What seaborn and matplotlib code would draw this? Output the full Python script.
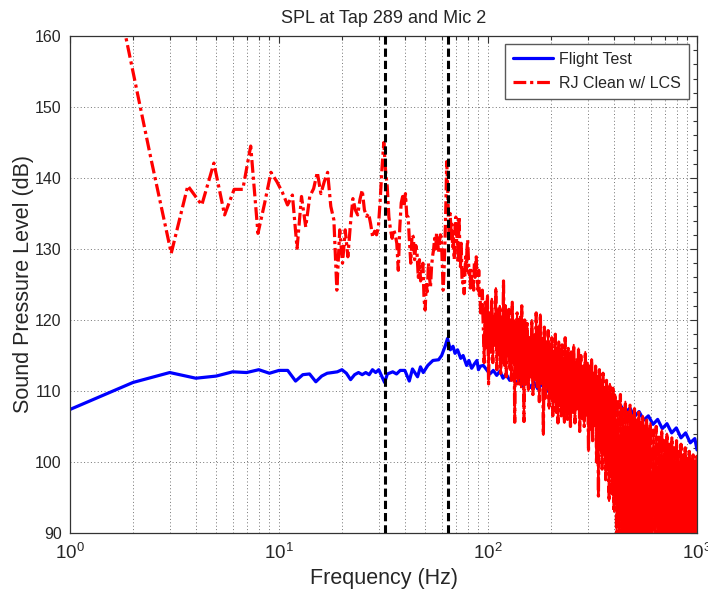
import pandas as pd
import seaborn as sns
import matplotlib.pyplot as plt
from matplotlib.lines import Line2D
from matplotlib.ticker import FixedLocator, FixedFormatter, LogLocator, MultipleLocator, NullFormatter

# ---- Flight Test (blue) ----
blue_freq = [1, 2, 3, 4, 5, 6, 7, 8, 9, 10, 11, 12, 13, 14, 15, 16, 17, 18, 19, 20,
             21, 22, 23, 24, 25, 26, 27, 28, 29, 30,
             32, 33, 35, 36.5, 38, 40, 42, 43.5, 46, 47.5, 49, 51.5, 54.5, 58, 60, 62.5, 64,
             66, 68, 69.5, 71.5, 74, 76, 79, 81, 83.5, 86, 88.5, 90, 92, 95, 99, 102, 106, 110,
             114, 118, 122, 127, 132, 136, 141, 147, 153, 160, 166, 173, 182, 190, 200, 210,
             222, 235, 250, 265, 280, 296, 313, 330, 348, 367, 387, 408, 430, 453, 477, 502,
             528, 556, 585, 616, 648, 682, 718, 756, 796, 838, 882, 928, 976, 1000]
blue_spl = [107.4, 111.2, 112.6, 111.8, 112.1, 112.7, 112.6, 113.0, 112.5, 112.9, 112.9, 111.4,
            112.3, 112.4, 111.3, 112.1, 112.5, 112.6, 112.7, 113.0, 112.5, 111.6, 112.3, 112.6,
            112.3, 112.6, 112.3, 113.0, 112.6, 113.0,
            111.2, 112.4, 112.7, 112.4, 112.9, 112.9, 111.4, 113.1, 112.0, 113.4, 112.6, 113.6,
            114.3, 114.4, 115.0, 116.4, 117.4,
            115.8, 116.3, 115.3, 115.8, 114.6, 115.0, 113.6, 114.3, 113.2, 113.8, 114.3, 113.0,
            113.5, 113.6, 112.9, 112.4, 112.9, 112.2, 112.8, 111.8, 112.4, 111.5, 112.0, 111.0,
            111.7, 110.6, 111.4, 110.5, 111.2, 110.3, 111.0, 109.9, 110.7, 109.6, 110.4, 109.4,
            110.1, 109.0, 109.8, 108.6, 109.3, 108.3, 108.9, 107.8, 108.5, 107.4, 108.0, 106.9,
            107.6, 106.4, 107.1, 105.9, 106.5, 105.3, 106.0, 104.7, 105.4, 104.1, 104.8, 103.4,
            104.1, 102.7, 103.3, 101.7]

# ---- RJ Clean w/ LCS (red), low-frequency part ----
red_freq_low = [0.61, 1.22, 1.83, 2.44, 3.05, 3.66, 4.27, 4.88, 5.49, 6.10, 6.71, 7.32, 7.93,
                8.54, 9.15, 9.76, 10.37, 10.98, 11.59, 12.20, 12.81, 13.42, 14.03, 14.64, 15.25,
                15.86, 16.47, 17.08, 17.69, 18.30, 18.91, 19.52, 20.13, 20.74, 21.35, 21.96,
                22.57, 23.18, 23.79, 24.40, 25.01, 25.62, 26.23, 26.84, 27.45, 28.06, 28.67,
                29.28, 29.89, 30.50, 31.11, 31.72, 32.33, 32.94, 33.55, 34.16, 34.77, 35.38,
                35.99, 36.60, 37.21, 37.82, 38.43, 39.04, 39.65, 40.26, 40.87, 41.48, 42.09,
                42.70, 43.31, 43.92, 44.53, 45.14, 45.75, 46.36, 46.97, 47.58, 48.19, 48.80,
                49.41, 50.02, 50.63, 51.24, 51.85, 52.46, 53.07, 53.68, 54.29, 54.90, 55.51,
                56.12, 56.73, 57.34, 57.95, 58.56, 59.17, 59.78, 60.39, 61.00, 61.61, 62.22,
                62.83, 63.44, 64.05, 64.66, 65.27, 65.88, 66.49, 67.10, 67.71, 68.32, 68.93,
                69.54, 70.15, 70.76, 71.37, 71.98, 72.59, 73.20, 73.81, 74.42, 75.03, 75.64,
                76.25, 76.86, 77.47, 78.08, 78.69, 79.30, 79.91, 80.52, 81.13, 81.74, 82.35,
                82.96, 83.57, 84.18, 84.79, 85.40, 86.01, 86.62, 87.23, 87.84, 88.45, 89.06,
                89.67, 90.28, 90.89, 91.50, 92.11, 92.72, 93.33, 93.94, 94.55, 95.16]
red_spl_low = [205.0, 183.0, 160.5, 142.7, 129.4, 138.9, 136.2, 142.1, 134.8, 138.4, 138.4, 144.5,
               132.2, 136.5, 140.8, 139.5, 138.0, 136.2, 137.6, 130.1, 137.4, 133.1, 137.4, 138.5,
               140.8, 137.8, 139.5, 140.8, 136.0, 134.1, 124.2, 132.7, 128.0, 132.7, 128.9, 133.5,
               137.1, 135.5, 134.8, 137.0, 138.3, 135.5, 134.6, 135.0, 133.5, 131.7, 132.5, 132.0,
               133.1, 137.0, 141.5, 145.0, 141.1, 138.8, 134.5, 132.7, 131.5, 132.7, 132.0, 130.8,
               127.0, 133.0, 136.5, 137.4, 136.0, 137.8, 134.6, 134.5, 131.0, 128.0, 132.0, 131.7,
               128.5, 130.5, 129.4, 126.0, 128.5, 125.5, 127.0, 128.0, 123.0, 121.4, 125.0, 124.0,
               128.0, 126.0, 124.7, 127.5, 129.0, 129.9, 131.5, 130.0, 132.2, 131.5, 129.5, 131.0,
               132.0, 131.7, 128.0, 124.2, 127.0, 130.8, 136.0, 142.3, 139.0, 134.5, 131.0, 135.0,
               132.7, 133.5, 130.3, 131.5, 128.5, 133.0, 134.5, 131.0, 133.0, 128.0, 134.6, 130.8,
               127.5, 130.8, 126.0, 125.2, 127.0, 123.7, 126.5, 128.9, 127.0, 130.0, 131.3, 129.0,
               126.5, 127.0, 124.5, 127.0, 125.0, 124.2, 125.5, 124.2, 128.0, 126.0, 127.5, 128.9,
               126.0, 125.6, 124.2, 127.0, 123.5, 124.2, 121.0, 122.5, 121.4, 124.2, 120.5, 118.0]

# ---- red, dense high-frequency band (peaks and troughs) ----
red_freq_high = [95.8, 97.0, 98.2, 99.4, 100.6, 101.8, 103.0, 104.2, 105.4, 106.6, 107.8, 109.0,
                 110.2, 111.4, 112.6, 113.8, 115.0, 116.2, 117.4, 118.6, 119.8, 121.0, 122.2,
                 123.4, 124.6, 125.8, 127.0, 128.2, 129.4, 130.6, 131.8, 133.0, 134.2, 135.4,
                 136.6, 137.8, 139.0, 140.2, 141.4, 142.6, 143.8, 145.0, 146.2, 147.4, 148.6,
                 149.8,
                 152, 154, 156, 158, 160, 162, 164, 166, 168, 170, 172, 174, 176, 178, 180, 182,
                 184, 186, 188, 190, 192, 194, 196, 198, 200, 202, 204, 206, 208, 210, 212, 214,
                 216, 218, 220, 222, 224, 226, 228, 230, 232, 234, 236, 238, 240, 242, 244, 246,
                 248, 250,
                 253.5, 257, 260.5, 264, 267.5, 271, 274.5, 278, 281.5, 285, 288.5, 292, 295.5,
                 299, 302.5, 306, 309.5, 313, 316.5, 320, 323.5, 327, 330.5, 334, 337.5, 341,
                 344.5, 348, 351.5, 355, 358.5, 362, 365.5, 369, 372.5, 376, 379.5, 383, 386.5,
                 390, 393.5, 397, 400.5,
                 406, 412, 418, 424, 430, 436, 442, 448, 454, 460, 466, 472, 478, 484, 490, 496,
                 502, 508, 514, 520, 526, 532, 538, 544, 550, 556, 562, 568, 574, 580, 586, 592,
                 598,
                 608, 618, 628, 638, 648, 658, 668, 678, 688, 698, 708, 718, 728, 738, 748, 758,
                 768, 778, 788, 798, 808, 818, 828, 838, 848, 858, 868, 878, 888, 898, 908, 918,
                 928, 938, 948, 958, 968, 978, 988, 998, 1000]
red_spl_high = [114.0, 122.5, 116.0, 123.5, 111.0, 121.0, 115.5, 123.0, 114.0, 120.5, 116.5, 124.5,
                113.0, 121.5, 115.0, 122.0, 112.5, 120.0, 114.5, 125.5, 113.5, 122.0, 112.0,
                120.5, 115.0, 121.5, 113.0, 119.5, 111.5, 122.5, 114.0, 120.0, 105.6, 119.0,
                112.5, 121.0, 111.0, 118.5, 113.5, 120.5, 110.5, 122.0, 112.0, 119.0, 105.7,
                120.0,
                111.0, 119.5, 110.0, 117.5, 112.0, 120.0, 109.5, 118.0, 111.5, 121.0, 110.5, 119.0,
                108.5, 120.8, 111.0, 117.5, 103.8, 119.0, 109.0, 117.0, 110.5, 118.5, 107.5, 116.5,
                109.0, 117.5, 106.5, 115.5, 108.5, 118.0, 107.0, 116.0, 105.5, 117.0, 108.0, 115.0,
                106.5, 116.5, 107.5, 114.5, 105.5, 117.5, 108.0, 115.0, 106.0, 116.0, 107.0, 114.0,
                105.0, 115.5,
                107.0, 116.5, 105.5, 114.5, 107.5, 116.0, 104.3, 115.0, 106.0, 113.5, 105.0, 115.5,
                106.5, 114.0, 101.5, 113.5, 104.5, 114.5, 103.0, 112.5, 105.0, 113.5, 100.0, 112.0,
                95.2, 113.0, 102.0, 111.5, 99.0, 112.5, 101.0, 110.5, 97.5, 111.5, 100.0, 110.0,
                94.5, 111.0, 98.0, 109.5, 95.5, 110.5, 93.0,
                109.5, 90.0, 108.5, 84.0, 109.5, 88.5, 107.5, 82.0, 108.5, 87.0, 107.0, 83.5,
                108.0, 89.0, 106.5, 81.0, 107.5, 86.5, 106.0, 84.5, 107.0, 88.0, 105.5, 82.5,
                106.5, 85.5, 105.0, 87.5, 106.0, 83.0, 104.5, 86.0, 105.5,
                84.0, 104.5, 88.0, 105.0, 82.5, 103.5, 86.5, 104.5, 83.0, 103.0, 87.5, 104.0,
                81.5, 102.5, 85.5, 103.5, 88.5, 102.0, 83.5, 103.0, 86.0, 101.5, 82.0, 102.5,
                87.0, 101.0, 84.5, 102.0, 88.0, 100.5, 83.0, 101.5, 86.5, 100.5, 81.5, 101.0,
                85.0, 100.0, 87.5, 100.8, 84.0]

marker_freqs = [32.2, 64.4]
x_ticks = [1, 10, 100, 1000]
x_tick_labels = [r"$10^{0}$", r"$10^{1}$", r"$10^{2}$", r"$10^{3}$"]

blue_df = pd.DataFrame({"Frequency": blue_freq, "SPL": blue_spl})
red_df = pd.DataFrame({"Frequency": red_freq_low + red_freq_high,
                       "SPL": red_spl_low + red_spl_high})
# dense part of the same series, drawn solid underneath so overlapping strokes fill in
red_dense = red_df[red_df["Frequency"] >= 95]

sns.set_theme(style="white")
plt.rcParams["font.family"] = ["Liberation Sans", "DejaVu Sans"]
plt.rcParams["mathtext.fontset"] = "custom"
plt.rcParams["mathtext.rm"] = "Liberation Sans"
plt.rcParams["mathtext.it"] = "Liberation Sans:italic"

fig = plt.figure(figsize=(7.08, 5.98), dpi=100)
ax = fig.add_axes([0.0989, 0.1087, 0.8856, 0.8311])

blue_style = dict(color="#0000ff", lw=2.3)
red_style = dict(color="#ff0000", lw=2.3, linestyle=(0, (4.0, 1.2, 1.0, 1.2)))

sns.lineplot(data=blue_df, x="Frequency", y="SPL", ax=ax, estimator=None, sort=False,
             errorbar=None, **blue_style)
sns.lineplot(data=red_dense, x="Frequency", y="SPL", ax=ax, estimator=None, sort=False,
             errorbar=None, color="#ff0000", lw=1.4)
sns.lineplot(data=red_df, x="Frequency", y="SPL", ax=ax, estimator=None, sort=False,
             errorbar=None, **red_style)
for f in marker_freqs:
    ax.axvline(f, color="black", lw=2.2, linestyle=(0, (2.7, 1.3)), zorder=5)

ax.set_xscale("log")
ax.set_xlim(1, 1000)
ax.set_ylim(90, 160)
ax.xaxis.set_major_locator(FixedLocator(x_ticks))
ax.xaxis.set_major_formatter(FixedFormatter(x_tick_labels))
ax.xaxis.set_minor_locator(LogLocator(base=10, subs=range(2, 10)))
ax.xaxis.set_minor_formatter(NullFormatter())
ax.yaxis.set_major_locator(MultipleLocator(10))
ax.yaxis.set_minor_locator(MultipleLocator(2))

ax.grid(True, which="both", axis="x", linestyle=(0, (1, 2.5)), color="0.45", lw=0.7)
ax.grid(True, which="major", axis="y", linestyle=(0, (1, 2.5)), color="0.45", lw=0.7)
ax.tick_params(which="both", direction="in", top=True, right=True, color="0.2", width=0.8)
ax.tick_params(which="major", length=5)
ax.tick_params(which="minor", length=3)
ax.tick_params(axis="x", which="major", labelsize=13.5, pad=7)
ax.tick_params(axis="y", which="major", labelsize=11.5, pad=6)
for s in ax.spines.values():
    s.set_color("0.2")
    s.set_linewidth(0.9)

ax.set_title("SPL at Tap 289 and Mic 2", fontsize=13, pad=9)
ax.set_xlabel("Frequency (Hz)", fontsize=15.5, labelpad=4)
ax.set_ylabel("Sound Pressure Level (dB)", fontsize=15.5, labelpad=1)

handles = [Line2D([], [], **blue_style),
           Line2D([], [], **red_style)]
leg = ax.legend(handles, ["Flight Test", "RJ Clean w/ LCS"], loc="upper right",
                fontsize=11.5, frameon=True, fancybox=False, framealpha=1,
                borderaxespad=0.5, handlelength=2.5, handletextpad=0.4,
                borderpad=0.5, labelspacing=0.55)
leg.get_frame().set_edgecolor("0.35")
leg.get_frame().set_linewidth(1.0)

fig.savefig("out.png", dpi=100)
